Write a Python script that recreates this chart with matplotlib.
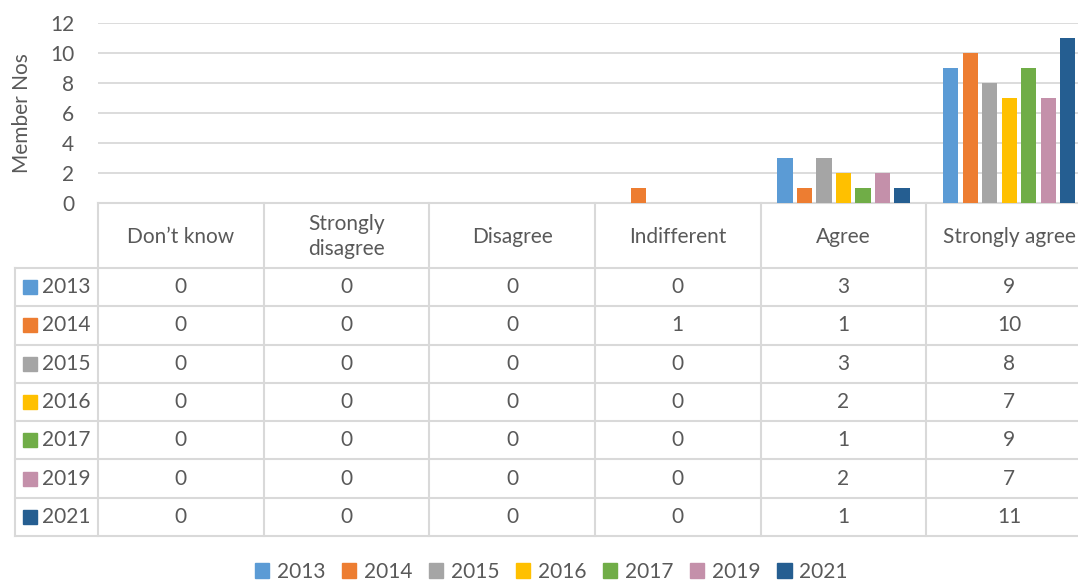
import matplotlib.pyplot as plt
from matplotlib.patches import Patch

categories = ["Don\u2019t know", "Strongly\ndisagree", "Disagree", "Indifferent", "Agree", "Strongly agree"]
years = ["2013", "2014", "2015", "2016", "2017", "2019", "2021"]
values_2013 = [0, 0, 0, 0, 3, 9]
values_2014 = [0, 0, 0, 1, 1, 10]
values_2015 = [0, 0, 0, 0, 3, 8]
values_2016 = [0, 0, 0, 0, 2, 7]
values_2017 = [0, 0, 0, 0, 1, 9]
values_2019 = [0, 0, 0, 0, 2, 7]
values_2021 = [0, 0, 0, 0, 1, 11]
series = [values_2013, values_2014, values_2015, values_2016, values_2017, values_2019, values_2021]
colors = ["#5B9BD5", "#ED7D31", "#A5A5A5", "#FFC000", "#70AD47", "#C490AA", "#255E91"]

TEXT = "#595959"
GRID = "#D9D9D9"
FS = 15
W, H = 1078, 581

plt.rcParams["font.family"] = ["Lato", "DejaVu Sans"]

fig = plt.figure(figsize=(W / 100, H / 100), dpi=100)

# chart area (in pixels: x 98..1092, y 23..203)
ax = fig.add_axes([98 / W, (H - 203) / H, (1092 - 98) / W, 180 / H])
step = 0.1177
bar_w = 0.0923
for i, vals in enumerate(series):
    xs = [c + 0.5 + (i - 3) * step for c in range(len(categories))]
    ax.bar(xs, vals, width=bar_w, color=colors[i], zorder=3)

ax.set_xlim(0, len(categories))
ax.set_ylim(0, 12)
ax.set_yticks(range(0, 13, 2))
ax.set_xticks([])
ax.yaxis.grid(True, color=GRID, lw=1.3)
ax.set_axisbelow(True)
for s in ["top", "right", "left"]:
    ax.spines[s].set_visible(False)
ax.spines["bottom"].set_color(GRID)
ax.spines["bottom"].set_linewidth(1.5)
ax.tick_params(axis="y", length=0, pad=17, labelsize=FS, labelcolor=TEXT)
ax.set_ylabel("Member Nos", fontsize=FS, color=TEXT, va="center")
ax.yaxis.set_label_coords(-76 / 994, 0.5)

# data table under the chart
tax = fig.add_axes([15 / W, (H - 536) / H, (1092 - 15) / W, (536 - 203) / H])
header_h = 1.7
n_rows = len(years)
tax.set_xlim(-0.5, len(categories))
tax.set_ylim(header_h + n_rows, 0)
tax.axis("off")

lk = dict(color=GRID, lw=1.5, clip_on=False)
for c in range(len(categories) + 1):
    tax.plot([c, c], [0, header_h + n_rows], **lk)
tax.plot([-0.5, -0.5], [header_h, header_h + n_rows], **lk)
for r in range(n_rows + 1):
    tax.plot([-0.5, len(categories)], [header_h + r, header_h + r], **lk)

for c, name in enumerate(categories):
    tax.text(c + 0.5, header_h / 2 + 0.03, name, ha="center", va="center",
             fontsize=FS, color=TEXT, linespacing=1.3)

for r, (year, vals) in enumerate(zip(years, series)):
    yc = header_h + r + 0.5
    tax.plot([-0.41], [yc], marker="s", markersize=10, color=colors[r], clip_on=False)
    tax.text(-0.335, yc, year, ha="left", va="center", fontsize=FS, color=TEXT)
    for c, v in enumerate(vals):
        tax.text(c + 0.5, yc, str(v), ha="center", va="center", fontsize=FS, color=TEXT)

handles = [Patch(color=col, label=y) for col, y in zip(colors, years)]
fig.legend(handles=handles, loc="center", bbox_to_anchor=(551 / W, (H - 572) / H),
           ncol=len(years), frameon=False, fontsize=FS, labelcolor=TEXT,
           handlelength=0.7, handleheight=0.7, handletextpad=0.35, columnspacing=0.8)

fig.savefig("out.png", dpi=100)
